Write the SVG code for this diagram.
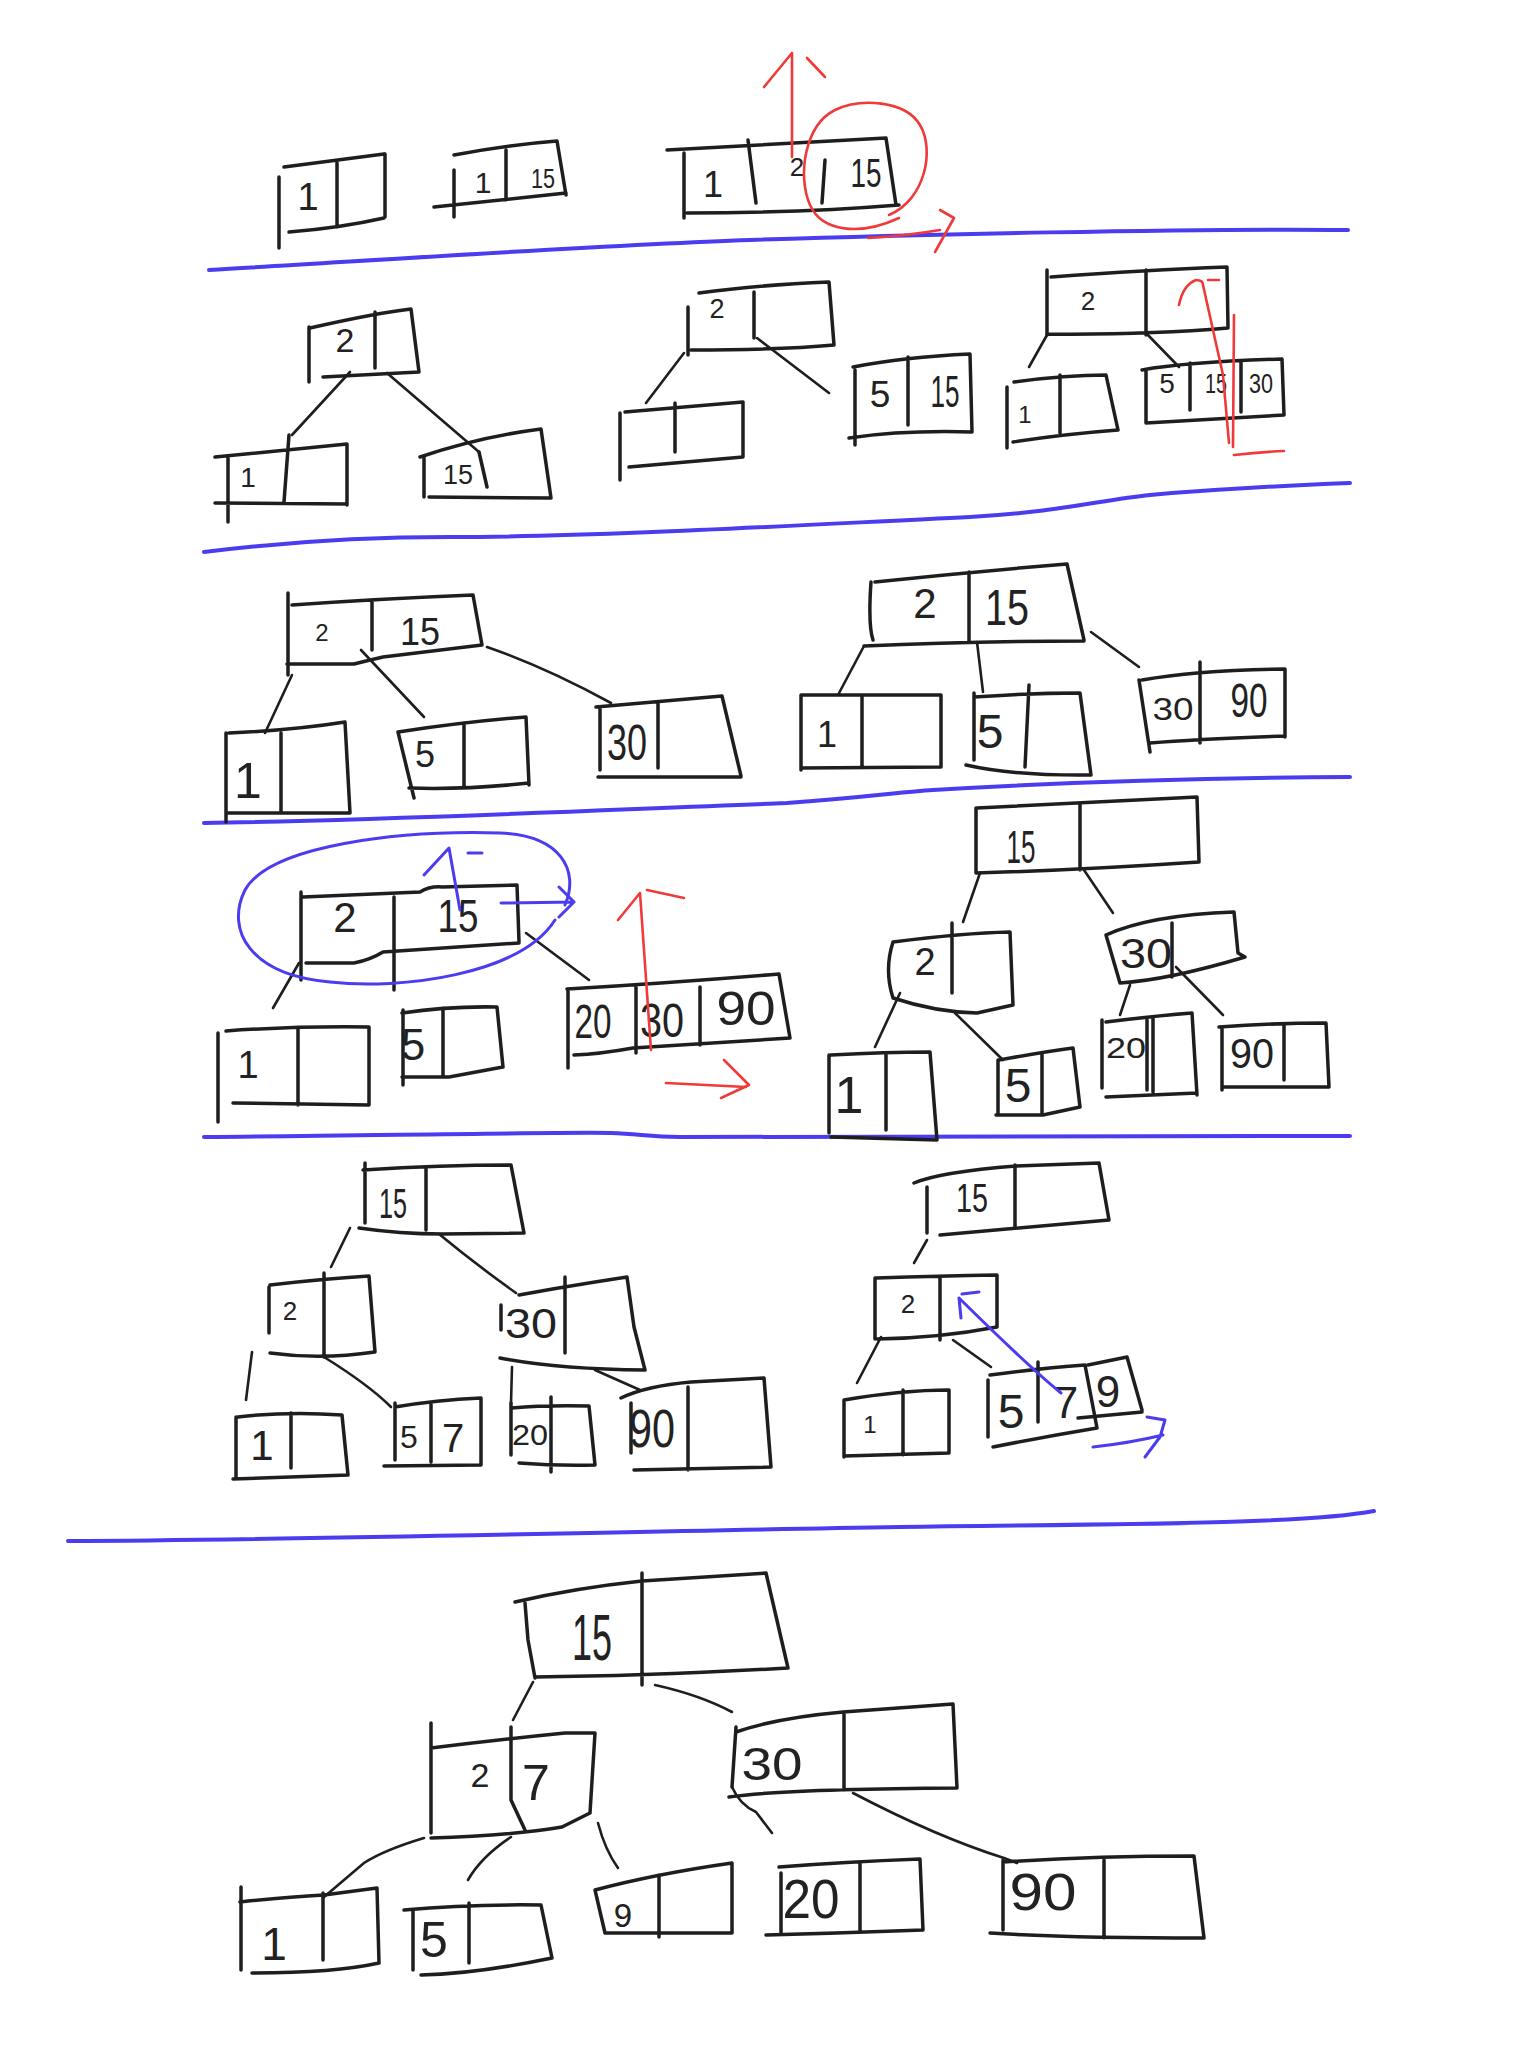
<svg xmlns="http://www.w3.org/2000/svg" width="1536" height="2048" viewBox="0 0 1536 2048">
<style>
.bx{fill:none;stroke:#1e1e1e;stroke-width:3.5;stroke-linecap:round;stroke-linejoin:round}
.ed{fill:none;stroke:#1e1e1e;stroke-width:2.6;stroke-linecap:round;stroke-linejoin:round}
.sep{fill:none;stroke:#4b3cf0;stroke-width:4;stroke-linecap:round}
.blue{fill:none;stroke:#4b3cf0;stroke-width:3;stroke-linecap:round;stroke-linejoin:round}
.red{fill:none;stroke:#f03a3a;stroke-width:2.6;stroke-linecap:round;stroke-linejoin:round}
text{font-family:"Liberation Sans",Arial,sans-serif;fill:#222;text-anchor:middle}
</style>
<rect width="1536" height="2048" fill="#fff"/>

<g id="separators">
<path class="sep" d="M209,270 C350,262 600,245 750,240 S1200,228 1348,230"/>
<path class="sep" d="M204,552 C300,540 380,537 450,537 C600,537 800,525 970,517 C1060,512 1100,500 1150,495 C1230,488 1300,485 1350,483"/>
<path class="sep" d="M204,823 C400,820 600,810 787,803 C870,797 900,792 933,790 C1050,783 1200,778 1350,777"/>
<path class="sep" d="M204,1137 C400,1135 560,1132 611,1133 C640,1134 650,1137 680,1137 L1350,1136"/>
<path class="sep" d="M68,1541 C300,1540 600,1532 900,1527 C1100,1524 1300,1525 1374,1511"/>
</g>

<g id="connectors">
<path class="ed" d="M350,372 L292,435"/>
<path class="ed" d="M387,373 L479,452"/>
<path class="ed" d="M684,353 L646,403"/>
<path class="ed" d="M757,338 L829,393"/>
<path class="ed" d="M1047,335 L1029,367"/>
<path class="ed" d="M1146,333 L1179,367"/>
<path class="ed" d="M292,675 L265,733"/>
<path class="ed" d="M361,650 L424,717"/>
<path class="ed" d="M487,647 Q545,667 611,703"/>
<path class="ed" d="M864,646 L838,695"/>
<path class="ed" d="M977,642 L983,692"/>
<path class="ed" d="M1091,632 L1139,667"/>
<path class="ed" d="M299,963 L273,1008"/>
<path class="ed" d="M526,933 L589,980"/>
<path class="ed" d="M980,873 L963,922"/>
<path class="ed" d="M1084,870 L1113,913"/>
<path class="ed" d="M900,993 L875,1047"/>
<path class="ed" d="M955,1013 L1003,1060"/>
<path class="ed" d="M1130,985 L1120,1015"/>
<path class="ed" d="M1176,967 L1223,1015"/>
<path class="ed" d="M350,1228 L331,1267"/>
<path class="ed" d="M439,1234 Q474,1263 516,1293"/>
<path class="ed" d="M252,1352 L246,1400"/>
<path class="ed" d="M324,1357 Q369,1385 391,1407"/>
<path class="ed" d="M512,1367 L511,1403"/>
<path class="ed" d="M595,1370 L640,1390"/>
<path class="ed" d="M927,1240 L914,1263"/>
<path class="ed" d="M881,1337 L857,1383"/>
<path class="ed" d="M953,1340 L991,1367"/>
<path class="ed" d="M533,1682 L513,1720"/>
<path class="ed" d="M655,1685 Q700,1695 732,1712"/>
<path class="ed" d="M424,1838 Q384,1850 364,1863 L324,1897"/>
<path class="ed" d="M511,1837 Q481,1857 468,1880"/>
<path class="ed" d="M598,1823 Q605,1850 618,1868"/>
<path class="ed" d="M732,1787 Q740,1805 756,1812 L772,1833"/>
<path class="ed" d="M853,1793 Q937,1837 1004,1858 L1017,1863"/>
</g>

<!-- Row 1 -->
<g id="r1-a"><path class="bx" d="M284,167 L384,154 M385,154 L385,217 M289,232 Q340,228 384,218 M279,177 L279,248 M337,163 L337,227"/><text x="308" y="210" font-size="38">1</text></g>
<g id="r1-b"><path class="bx" d="M454,155 Q506,145 557,141 L566,195 M434,207 Q500,200 566,193 M454,170 L454,217 M506,150 L506,200"/><text x="483" y="193" font-size="30">1</text><text x="543" y="188" font-size="28" textLength="24" lengthAdjust="spacingAndGlyphs">15</text></g>
<g id="r1-c"><path class="bx" d="M667,150 L886,138 L896,205 M687,213 Q800,213 899,205 M684,153 L684,218 M748,140 L756,203 M825,160 L822,203"/><text x="713" y="197" font-size="36">1</text><text x="797" y="176" font-size="26">2</text><text x="866" y="187" font-size="40" textLength="31" lengthAdjust="spacingAndGlyphs">15</text></g>

<!-- Row 2 -->
<g id="r2-t1-root"><path class="bx" d="M310,328 Q376,313 411,309 L419,372 M323,377 L419,372 M309,327 L309,382 M375,312 L375,368"/><text x="345" y="352" font-size="34">2</text></g>
<g id="r2-t1-l1"><path class="bx" d="M215,457 Q288,450 347,444 L347,505 M215,503 L347,504 M228,457 L228,522 M289,435 L284,502"/><text x="248" y="487" font-size="28">1</text></g>
<g id="r2-t1-l15"><path class="bx" d="M420,457 Q479,437 541,429 L551,498 M429,497 L551,498 M424,457 L424,497 M479,452 L487,487"/><text x="458" y="484" font-size="28" textLength="30" lengthAdjust="spacingAndGlyphs">15</text></g>
<g id="r2-t2-root"><path class="bx" d="M699,293 Q757,285 829,282 L834,345 M691,350 Q779,350 834,345 M688,307 L688,355 M754,292 L754,338"/><text x="717" y="318" font-size="27">2</text></g>
<g id="r2-t2-l1"><path class="bx" d="M625,412 L743,402 L743,457 M629,467 L743,457 M620,413 L620,480 M675,403 L675,452"/></g>
<g id="r2-t2-l515"><path class="bx" d="M853,367 Q904,357 970,354 L972,432 M849,438 Q904,430 972,432 M855,370 L855,445 M908,357 L908,425"/><text x="880" y="407" font-size="37">5</text><text x="945" y="407" font-size="44" textLength="29" lengthAdjust="spacingAndGlyphs">15</text></g>
<g id="r2-t3-root"><path class="bx" d="M1051,277 Q1146,270 1227,267 L1228,328 M1047,334 Q1146,335 1228,328 M1047,270 L1047,335 M1146,270 L1146,335"/><text x="1088" y="310" font-size="26">2</text></g>
<g id="r2-t3-l1"><path class="bx" d="M1014,382 Q1065,375 1106,375 L1118,430 M1013,442 Q1065,434 1118,430 M1007,387 L1007,448 M1060,375 L1060,433"/><text x="1025" y="423" font-size="24">1</text></g>
<g id="r2-t3-l51530"><path class="bx" d="M1142,370 Q1186,362 1282,359 L1284,415 M1146,423 L1284,415 M1146,370 L1146,423 M1190,363 L1190,410 M1241,362 L1241,412"/><text x="1167" y="393" font-size="28">5</text><text x="1216" y="393" font-size="28" textLength="22" lengthAdjust="spacingAndGlyphs">15</text><text x="1261" y="393" font-size="28" textLength="24" lengthAdjust="spacingAndGlyphs">30</text></g>

<!-- Row 3 -->
<g id="r3-t1-root"><path class="bx" d="M292,605 Q376,599 473,595 L482,645 M287,664 L354,664 Q370,660 383,657 L482,645 M288,593 L288,675 M372,600 L372,650"/><text x="322" y="641" font-size="24">2</text><text x="420" y="645" font-size="38" textLength="40" lengthAdjust="spacingAndGlyphs">15</text></g>
<g id="r3-t1-l1"><path class="bx" d="M229,733 Q295,730 345,722 L350,813 M226,813 L350,813 M226,733 L226,822 M281,733 L281,813"/><text x="248" y="798" font-size="50">1</text></g>
<g id="r3-t1-l5"><path class="bx" d="M398,732 Q464,722 526,717 L529,785 M409,788 Q464,790 529,783 M398,732 L414,798 M464,723 L464,788"/><text x="425" y="767" font-size="36">5</text></g>
<g id="r3-t1-l30"><path class="bx" d="M596,707 Q655,702 722,696 L741,776 M598,777 L741,777 M600,707 L600,770 M658,702 L658,768"/><text x="627" y="760" font-size="50" textLength="40" lengthAdjust="spacingAndGlyphs">30</text></g>
<g id="r3-t2-root"><path class="bx" d="M875,582 Q970,572 1067,564 L1084,640 M864,646 Q970,641 1084,641 M871,582 Q868,625 873,640 M969,572 L969,642"/><text x="925" y="618" font-size="42">2</text><text x="1007" y="625" font-size="50" textLength="44" lengthAdjust="spacingAndGlyphs">15</text></g>
<g id="r3-t2-l1"><path class="bx" d="M801,695 L941,695 L941,767 M801,768 L941,767 M801,695 L801,770 M862,697 L862,768"/><text x="827" y="747" font-size="36">1</text></g>
<g id="r3-t2-l5"><path class="bx" d="M974,697 Q1029,693 1080,693 L1091,775 M966,765 Q1014,776 1091,775 M974,693 L974,760 M1029,685 L1025,767"/><text x="990" y="748" font-size="48">5</text></g>
<g id="r3-t2-l3090"><path class="bx" d="M1142,680 Q1197,670 1285,669 L1285,737 M1150,743 Q1197,739 1285,736 M1139,680 L1150,752 M1200,662 L1200,743"/><text x="1173" y="720" font-size="32" textLength="41" lengthAdjust="spacingAndGlyphs">30</text><text x="1249" y="717" font-size="48" textLength="37" lengthAdjust="spacingAndGlyphs">90</text></g>

<!-- Row 4 -->
<g id="r4-t1-root"><path class="bx" d="M303,897 L420,892 Q430,886 442,887 L517,885 L519,942 M306,963 L354,963 Q370,960 383,952 L519,943 M301,892 L301,980 M394,897 L394,990"/><text x="345" y="932" font-size="42">2</text><text x="458" y="932" font-size="46" textLength="41" lengthAdjust="spacingAndGlyphs">15</text></g>
<g id="r4-t1-l1"><path class="bx" d="M226,1031 Q295,1026 369,1027 L369,1105 M233,1103 L369,1105 M218,1033 L218,1122 M298,1028 L298,1105"/><text x="248" y="1078" font-size="38">1</text></g>
<g id="r4-t1-l5"><path class="bx" d="M402,1013 Q449,1006 497,1007 L503,1067 M402,1077 L449,1077 L503,1067 M403,1010 L403,1085 M443,1008 L443,1077"/><text x="413" y="1060" font-size="44">5</text></g>
<g id="r4-t1-l203090"><path class="bx" d="M567,989 Q669,983 779,974 L790,1038 M574,1055 Q600,1054 633,1048 L790,1038 M568,990 L568,1068 M636,987 L636,1053 M700,987 L700,1045"/><text x="593" y="1038" font-size="48" textLength="37" lengthAdjust="spacingAndGlyphs">20</text><text x="662" y="1037" font-size="48" textLength="44" lengthAdjust="spacingAndGlyphs">30</text><text x="746" y="1025" font-size="48" textLength="59" lengthAdjust="spacingAndGlyphs">90</text></g>
<g id="r4-t2-root"><path class="bx" d="M977,808 Q1080,803 1197,797 L1199,862 M976,873 Q1080,870 1199,862 M976,808 L976,873 M1080,803 L1080,870"/><text x="1021" y="863" font-size="46" textLength="29" lengthAdjust="spacingAndGlyphs">15</text></g>
<g id="r4-t2-n2"><path class="bx" d="M893,942 Q963,933 1010,932 L1013,1005 M893,998 Q935,1012 977,1013 L1013,1005 M893,942 Q884,970 893,998 M952,923 L952,993"/><text x="925" y="975" font-size="38">2</text></g>
<g id="r4-t2-n30"><path class="bx" d="M1106,935 Q1150,915 1234,912 L1238,953 L1245,957 M1120,983 Q1168,980 1245,957 M1106,935 L1120,983 M1172,923 L1172,977"/><text x="1146" y="968" font-size="42" textLength="52" lengthAdjust="spacingAndGlyphs">30</text></g>
<g id="r4-t2-l1"><path class="bx" d="M831,1055 Q886,1052 930,1052 L937,1140 M831,1137 L937,1140 M829,1055 L829,1133 M886,1053 L886,1130"/><text x="849" y="1113" font-size="52">1</text></g>
<g id="r4-t2-l5"><path class="bx" d="M999,1060 Q1043,1052 1073,1048 L1080,1107 M996,1115 L1043,1115 L1080,1107 M998,1060 L998,1115 M1042,1053 L1042,1115"/><text x="1018" y="1102" font-size="48">5</text></g>
<g id="r4-t2-l20"><path class="bx" d="M1106,1022 Q1153,1016 1192,1013 L1197,1095 M1106,1097 L1197,1093 M1102,1020 L1102,1088 M1153,1018 L1153,1092 M1147,1020 L1147,1090"/><text x="1126" y="1058" font-size="30" textLength="40" lengthAdjust="spacingAndGlyphs">20</text></g>
<g id="r4-t2-l90"><path class="bx" d="M1219,1027 Q1274,1023 1326,1023 L1329,1087 M1223,1087 L1329,1087 M1222,1027 L1222,1090 M1284,1024 L1284,1080"/><text x="1252" y="1068" font-size="42" textLength="44" lengthAdjust="spacingAndGlyphs">90</text></g>

<!-- Row 5 -->
<g id="r5-t1-root"><path class="bx" d="M363,1170 Q442,1165 511,1165 L524,1233 M359,1228 Q400,1234 442,1234 L524,1233 M365,1163 L365,1223 M426,1167 L426,1230"/><text x="393" y="1218" font-size="43" textLength="28" lengthAdjust="spacingAndGlyphs">15</text></g>
<g id="r5-t1-n2"><path class="bx" d="M270,1285 Q321,1279 369,1276 L375,1352 M270,1353 Q321,1360 375,1352 M269,1287 L269,1333 M324,1273 L324,1357"/><text x="290" y="1320" font-size="26">2</text></g>
<g id="r5-t1-n30"><path class="bx" d="M519,1295 Q557,1288 595,1282 L627,1277 L634,1327 L645,1370 M500,1358 Q557,1369 645,1370 M501,1305 L501,1330 M565,1277 L565,1353"/><text x="531" y="1338" font-size="43" textLength="52" lengthAdjust="spacingAndGlyphs">30</text></g>
<g id="r5-t1-l1"><path class="bx" d="M238,1417 Q289,1411 342,1415 L348,1475 M233,1479 Q289,1477 348,1475 M236,1417 L236,1477 M291,1413 L291,1468"/><text x="262" y="1460" font-size="42">1</text></g>
<g id="r5-t1-l57"><path class="bx" d="M395,1407 Q436,1400 481,1398 L481,1465 M384,1466 L481,1465 M395,1403 L395,1460 M431,1403 L431,1462"/><text x="409" y="1448" font-size="32">5</text><text x="453" y="1452" font-size="40">7</text></g>
<g id="r5-t1-l20"><path class="bx" d="M512,1408 Q544,1405 589,1406 L595,1465 M519,1463 Q557,1466 595,1465 M511,1403 L511,1455 M551,1397 L551,1472"/><text x="530" y="1445" font-size="30" textLength="36" lengthAdjust="spacingAndGlyphs">20</text></g>
<g id="r5-t1-l90"><path class="bx" d="M621,1398 Q646,1386 691,1382 L764,1378 L771,1467 M634,1470 L771,1467 M631,1403 L631,1453 M688,1387 L688,1470"/><text x="652" y="1447" font-size="54" textLength="46" lengthAdjust="spacingAndGlyphs">90</text></g>
<g id="r5-t2-root"><path class="bx" d="M914,1183 Q940,1172 1016,1166 L1099,1163 L1109,1220 M940,1235 Q1016,1228 1109,1220 M927,1187 L927,1233 M1015,1165 L1015,1227"/><text x="972" y="1212" font-size="40" textLength="32" lengthAdjust="spacingAndGlyphs">15</text></g>
<g id="r5-t2-n2"><path class="bx" d="M876,1278 Q940,1276 997,1275 L997,1327 M877,1339 Q940,1338 997,1327 M875,1278 L875,1339 M940,1277 L940,1340"/><text x="908" y="1313" font-size="26">2</text></g>
<g id="r5-t2-l1"><path class="bx" d="M844,1400 Q902,1390 949,1390 L949,1453 M844,1456 L949,1453 M844,1400 L844,1457 M903,1390 L903,1455"/><text x="870" y="1433" font-size="24">1</text></g>
<g id="r5-t2-l579"><path class="bx" d="M990,1375 Q1043,1368 1085,1365 L1097,1428 M993,1447 Q1043,1437 1097,1428 M988,1380 L988,1437 M1038,1362 L1038,1422 M1088,1365 L1127,1357 L1142,1410 M1078,1418 L1142,1412"/><text x="1011" y="1428" font-size="48">5</text><text x="1066" y="1418" font-size="44">7</text><text x="1108" y="1407" font-size="44">9</text></g>

<!-- Row 6 -->
<g id="r6-root"><path class="bx" d="M515,1602 Q575,1588 642,1581 L766,1573 L788,1668 M535,1677 Q649,1676 788,1668 M525,1603 L528,1640 L535,1678 M642,1573 L642,1685"/><text x="592" y="1660" font-size="64" textLength="40" lengthAdjust="spacingAndGlyphs">15</text></g>
<g id="r6-n27"><path class="bx" d="M431,1748 Q495,1740 565,1733 L595,1733 L590,1813 M431,1838 Q508,1836 562,1827 L590,1813 M431,1723 L431,1833 M511,1727 L511,1800 L525,1830"/><text x="480" y="1787" font-size="34">2</text><text x="536" y="1800" font-size="50">7</text></g>
<g id="r6-n30"><path class="bx" d="M736,1732 Q776,1718 843,1712 L953,1704 L957,1788 M729,1797 Q783,1789 957,1788 M736,1727 L732,1787 M844,1712 L844,1790"/><text x="772" y="1780" font-size="46" textLength="61" lengthAdjust="spacingAndGlyphs">30</text></g>
<g id="r6-l1"><path class="bx" d="M240,1902 Q287,1897 324,1895 L377,1888 L379,1963 M252,1973 Q334,1973 379,1963 M241,1887 L241,1970 M323,1893 L323,1960"/><text x="274" y="1960" font-size="46">1</text></g>
<g id="r6-l5"><path class="bx" d="M404,1910 Q468,1904 541,1905 L552,1958 M421,1975 Q475,1974 552,1958 M413,1910 L413,1970 M469,1903 L469,1963"/><text x="434" y="1957" font-size="50">5</text></g>
<g id="r6-l9"><path class="bx" d="M595,1890 Q655,1874 732,1863 L732,1933 M605,1933 L732,1933 M595,1890 L605,1933 M659,1875 L659,1937"/><text x="623" y="1927" font-size="33">9</text></g>
<g id="r6-l20"><path class="bx" d="M779,1867 Q843,1862 920,1859 L923,1930 M766,1935 Q843,1933 923,1930 M781,1873 L781,1932 M860,1863 L860,1932"/><text x="811" y="1918" font-size="56" textLength="57" lengthAdjust="spacingAndGlyphs">20</text></g>
<g id="r6-l90"><path class="bx" d="M1003,1862 Q1091,1856 1194,1856 L1204,1938 M990,1933 Q1070,1938 1204,1938 M1003,1860 L1003,1930 M1104,1860 L1104,1938"/><text x="1043" y="1910" font-size="52" textLength="67" lengthAdjust="spacingAndGlyphs">90</text></g>

<g id="annotations">
<path class="red" d="M889,215 C925,200 935,150 920,125 C905,100 860,98 835,110 C805,125 797,175 810,205 C822,232 860,236 899,218"/>
<path class="red" d="M792,157 L792,53 M792,53 L764,87 M807,58 L825,77"/>
<path class="red" d="M868,238 Q905,236 940,230 M940,210 L954,218 L935,252"/>
<path class="red" d="M1179,305 Q1183,285 1196,280 Q1203,280 1203,285 L1223,375 L1229,443 M1234,315 L1233,447 M1234,455 Q1260,452 1284,451 M1208,280 L1219,280"/>
<path class="blue" d="M555,920 C520,975 400,990 330,982 C250,975 225,930 245,890 C270,845 400,830 500,833 C560,835 580,870 565,905"/>
<path class="blue" d="M424,875 L449,848 L460,910 M468,853 L482,853"/>
<path class="blue" d="M501,903 L574,902 M559,887 L574,902 L559,917"/>
<path class="red" d="M651,1050 L640,893 L618,920 M647,890 L684,898"/>
<path class="red" d="M666,1083 Q705,1085 746,1087 M724,1060 L749,1085 L721,1098"/>
<path class="blue" d="M1061,1393 Q1029,1367 959,1298 M959,1298 L961,1318 M962,1294 L979,1292"/>
<path class="blue" d="M1093,1447 Q1130,1443 1163,1435 M1147,1417 L1165,1420 L1160,1437 L1145,1457"/>
</g>
</svg>
